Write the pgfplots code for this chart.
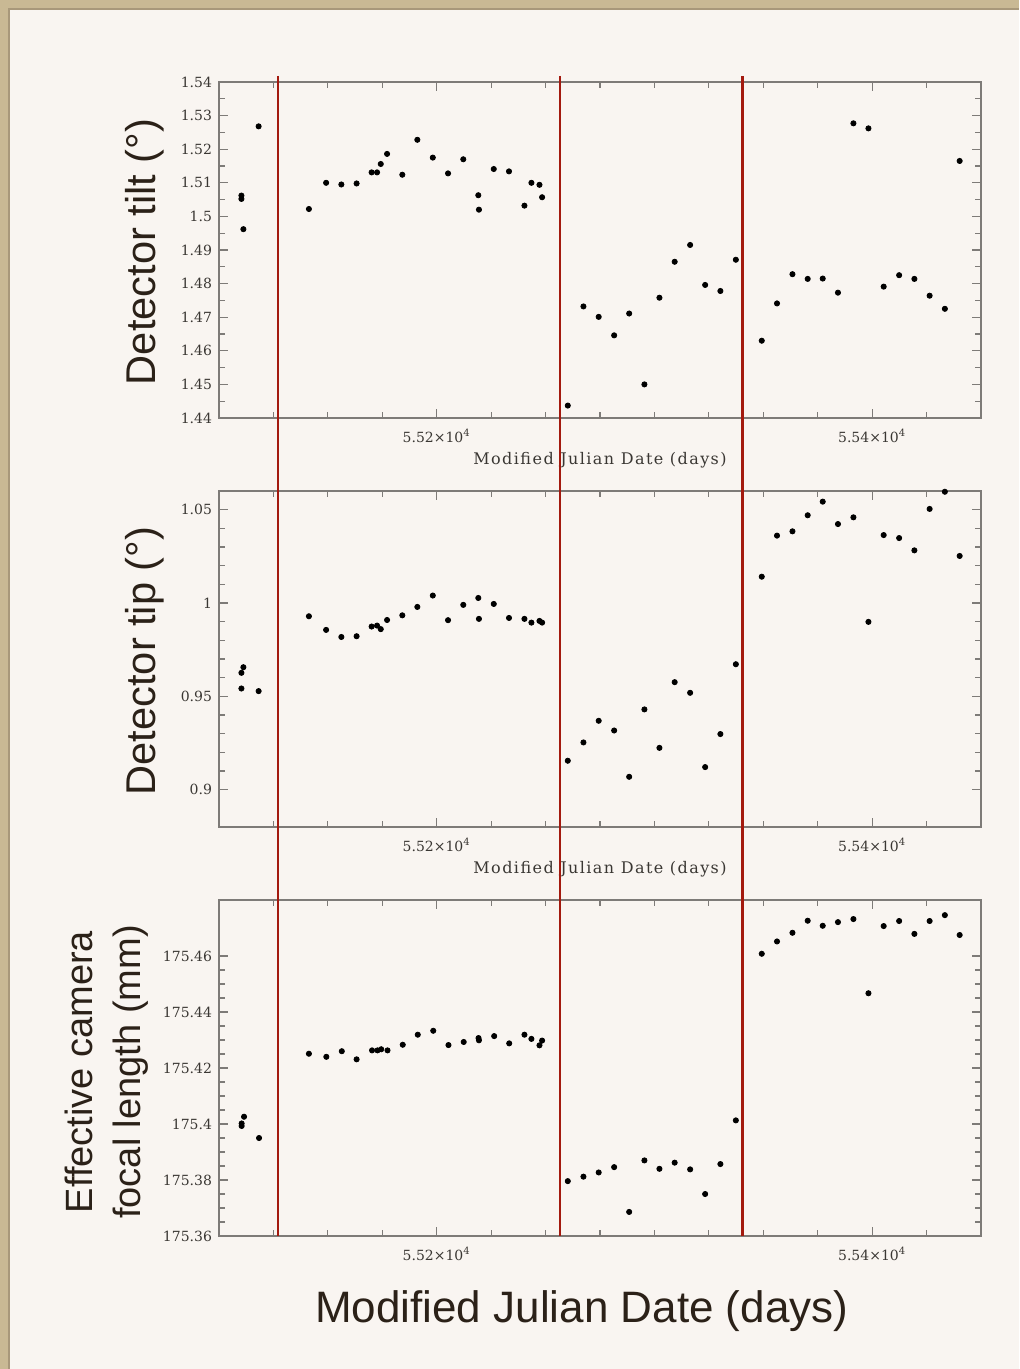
\documentclass[border=0pt]{standalone}
\usepackage{fontspec}
\usepackage{pgfplots}
\pgfplotsset{compat=1.18}
\newfontfamily\tickfont{DejaVu Serif}
\newfontfamily\smallfont{DejaVu Serif}[LetterSpace=9]
\newfontfamily\bigfont{Liberation Sans}
\definecolor{cream}{HTML}{F9F5F1}
\definecolor{tanb}{HTML}{C9B994}
\definecolor{tand}{HTML}{A8987A}
\definecolor{redline}{HTML}{A31A0F}
\definecolor{axisgrey}{HTML}{7E7B78}
\definecolor{ticktext}{HTML}{3A3733}
\definecolor{labtext}{HTML}{2B2118}

\pgfplotsset{
  panel/.style={
    scale only axis, width=381pt, height=168pt,
    xmin=55100, xmax=55450,
    xtick={55200,55400},
    xticklabels={5.52×10\textsuperscript{4},5.54×10\textsuperscript{4}},
    minor xtick={55125,55150,55175,55225,55250,55275,55300,55325,55350,55375,55425},
    axis line style={axisgrey, line width=0.7pt},
    every tick/.style={axisgrey, line width=0.6pt},
    tick align=inside,
    major tick length=4.5pt, minor tick length=3pt,
    tick label style={font=\tickfont\fontsize{7}{8}\selectfont, text=ticktext},
    xticklabel style={yshift=-2pt},
    /pgf/number format/assume math mode=true,
    scaled ticks=false,
    yticklabel style={/pgf/number format/.cd, fixed, precision=2},
    ylabel style={font=\bigfont\fontsize{20.8}{24}\selectfont, text=labtext, anchor=center},
    clip=false,
  },
  smallx/.style={
    xlabel={Modified Julian Date (days)},
    xlabel style={at={(axis description cs:0.5,-0.137)}, anchor=base,
      font=\smallfont\fontsize{8}{9}\selectfont, text=ticktext},
  },
  dots/.style={only marks, mark=*, mark size=1.3pt, black, mark options={draw=black, fill=black}},
}

\begin{document}
\begin{tikzpicture}
% background
\fill[tanb] (0,0) rectangle (509.5pt,-684.5pt);
\fill[tand] (4.2pt,-4.2pt) rectangle (509.5pt,-684.5pt);
\fill[cream] (5pt,-5pt) rectangle (509.5pt,-684.5pt);

% ---------- Panel 1: detector tilt ----------
\begin{axis}[panel, smallx,
  at={(109.5pt,-209pt)}, anchor=south west,
  ymin=1.44, ymax=1.54,
  ytick={1.44,1.45,1.46,1.47,1.48,1.49,1.5,1.51,1.52,1.53,1.54},
  minor y tick num=1,
  ylabel={Detector tilt (°)},
  ylabel style={at={(axis description cs:-0.097,0.494)}},
]
\addplot[dots] coordinates {
(55110.3,1.5062) (55110.3,1.5052) (55111.2,1.4962) (55118.2,1.5268)
(55141.3,1.5022) (55149.2,1.5100) (55156.2,1.5095) (55163.2,1.5098)
(55170.1,1.5131) (55172.6,1.5131) (55174.3,1.5156) (55177.2,1.5186)
(55184.2,1.5124) (55191.1,1.5228) (55198.2,1.5175) (55205.2,1.5128)
(55212.2,1.5170) (55219.1,1.5063) (55219.4,1.5020) (55226.2,1.5141)
(55233.2,1.5134) (55240.3,1.5032) (55243.5,1.5100) (55247.2,1.5094)
(55248.4,1.5057)
(55260.2,1.4437) (55267.4,1.4732) (55274.4,1.4701) (55281.5,1.4646)
(55288.4,1.4711) (55295.4,1.4500) (55302.3,1.4758) (55309.3,1.4865)
(55316.4,1.4915) (55323.3,1.4796) (55330.3,1.4778) (55337.4,1.4871)
(55349.3,1.4630) (55356.3,1.4741) (55363.4,1.4828) (55370.4,1.4814)
(55377.3,1.4815) (55384.3,1.4773) (55391.4,1.5277) (55398.3,1.5262)
(55405.3,1.4791) (55412.4,1.4825) (55419.4,1.4814) (55426.4,1.4764)
(55433.4,1.4725) (55440.2,1.5165)
};
\coordinate (t1) at (axis cs:55127.2,1.54);
\coordinate (t2) at (axis cs:55256.7,1.54);
\coordinate (t3) at (axis cs:55340.4,1.54);
\end{axis}

% ---------- Panel 2: detector tip ----------
\begin{axis}[panel, smallx,
  at={(109.5pt,-413.5pt)}, anchor=south west,
  ymin=0.88, ymax=1.06,
  ytick={0.9,0.95,1,1.05},
  minor y tick num=4,
  ylabel={Detector tip (°)},
  ylabel style={at={(axis description cs:-0.097,0.494)}},
]
\addplot[dots] coordinates {
(55110.3,0.9626) (55111.2,0.9656) (55110.3,0.9542) (55118.2,0.9528)
(55141.3,0.9929) (55149.2,0.9856) (55156.2,0.9818) (55163.2,0.9822)
(55170.1,0.9874) (55172.6,0.9879) (55174.3,0.9860) (55177.2,0.9909)
(55184.2,0.9934) (55191.1,0.9979) (55198.2,1.0040) (55205.2,0.9908)
(55212.2,0.9990) (55219.1,1.0027) (55219.4,0.9915) (55226.2,0.9995)
(55233.2,0.9920) (55240.3,0.9915) (55243.5,0.9895) (55247.2,0.9904)
(55248.4,0.9895)
(55260.2,0.9155) (55267.4,0.9253) (55274.4,0.9369) (55281.5,0.9317)
(55288.4,0.9069) (55295.4,0.9430) (55302.3,0.9224) (55309.3,0.9576)
(55316.4,0.9519) (55323.3,0.9121) (55330.3,0.9298) (55337.4,0.9672)
(55349.3,1.0141) (55356.3,1.0361) (55363.4,1.0384) (55370.4,1.0470)
(55377.3,1.0543) (55384.3,1.0423) (55391.4,1.0459) (55398.3,0.9899)
(55405.3,1.0364) (55412.4,1.0348) (55419.4,1.0282) (55426.4,1.0504)
(55433.4,1.0596) (55440.2,1.0252)
};
\end{axis}

% ---------- Panel 3: focal length ----------
\begin{axis}[panel,
  at={(109.5pt,-618pt)}, anchor=south west,
  ymin=175.36, ymax=175.48,
  ytick={175.36,175.38,175.4,175.42,175.44,175.46},
  minor y tick num=3,
  ylabel={Effective camera\\focal length (mm)},
  ylabel style={at={(axis description cs:-0.148,0.488)}, align=center,
    font=\bigfont\fontsize{19}{24}\selectfont},
  xlabel={Modified Julian Date (days)},
  xlabel style={at={(axis description cs:0.476,-0.258)}, anchor=base,
    font=\bigfont\fontsize{22}{24}\selectfont, text=labtext},
]
\addplot[dots] coordinates {
(55110.4,175.4002) (55110.4,175.3993) (55111.5,175.4026) (55118.4,175.3950)
(55141.3,175.4251) (55149.3,175.4240) (55156.4,175.4260) (55163.2,175.4231)
(55170.3,175.4263) (55172.8,175.4263) (55174.5,175.4267) (55177.4,175.4263)
(55184.4,175.4283) (55191.3,175.4319) (55198.4,175.4333) (55205.4,175.4282)
(55212.4,175.4293) (55219.2,175.4307) (55219.4,175.4299) (55226.4,175.4314)
(55233.3,175.4288) (55240.3,175.4319) (55243.5,175.4304) (55247.2,175.4281)
(55248.4,175.4298)
(55260.2,175.3796) (55267.4,175.3812) (55274.4,175.3827) (55281.5,175.3846)
(55288.4,175.3686) (55295.4,175.3870) (55302.3,175.3840) (55309.3,175.3862)
(55316.4,175.3838) (55323.3,175.3750) (55330.3,175.3857) (55337.4,175.4013)
(55349.3,175.4608) (55356.3,175.4652) (55363.4,175.4683) (55370.4,175.4726)
(55377.3,175.4708) (55384.3,175.4721) (55391.4,175.4732) (55398.3,175.4467)
(55405.3,175.4707) (55412.4,175.4725) (55419.4,175.4679) (55426.4,175.4725)
(55433.4,175.4746) (55440.2,175.4675)
};
\coordinate (b1) at (axis cs:55127.2,175.36);
\coordinate (b2) at (axis cs:55256.7,175.36);
\coordinate (b3) at (axis cs:55340.4,175.36);
\end{axis}

\foreach \i in {1,2,3}{
  \draw[redline, line width=1.2pt] ([yshift=3pt]t\i) -- (b\i);
}
\end{tikzpicture}
\end{document}
